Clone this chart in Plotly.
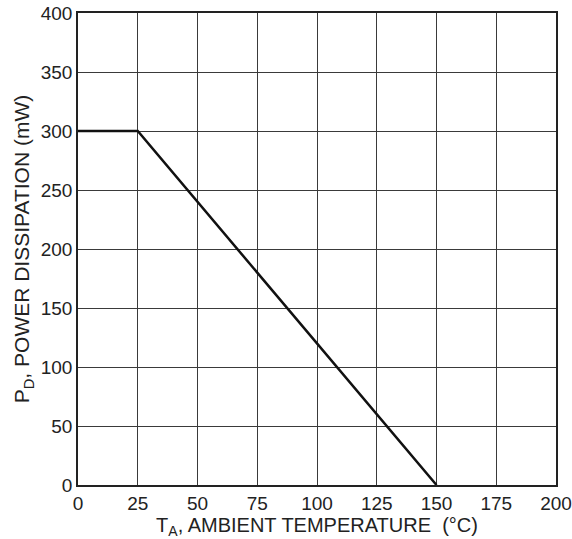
import plotly.graph_objects as go

temp_c = [0, 25, 150]
power_mw = [300, 300, 0]

x_ticks = [0, 25, 50, 75, 100, 125, 150, 175, 200]
y_ticks = [0, 50, 100, 150, 200, 250, 300, 350, 400]

font = "Liberation Sans, Arial, sans-serif"

fig = go.Figure()
fig.add_trace(go.Scatter(x=temp_c, y=power_mw, mode="lines",
                         line=dict(color="#111111", width=2.5), showlegend=False))

fig.update_layout(
    width=572, height=539,
    margin=dict(l=78, r=16, t=13, b=54, autoexpand=False),
    paper_bgcolor="white", plot_bgcolor="white",
    font=dict(family=font, size=19, color="#222222"),
)
fig.update_xaxes(
    range=[0, 200], tickvals=x_ticks, ticktext=[str(v) for v in x_ticks],
    showgrid=True, gridcolor="#3a3a3a", gridwidth=1,
    showline=True, linecolor="#222222", linewidth=1.5, mirror=True,
    zeroline=False, ticks="", tickfont=dict(size=19), automargin=False,
    title=dict(text="T<sub>A</sub>, AMBIENT TEMPERATURE  (°C)", font=dict(size=20), standoff=4),
)
fig.update_yaxes(
    range=[0, 400], tickvals=y_ticks, ticktext=[str(v) for v in y_ticks],
    showgrid=True, gridcolor="#3a3a3a", gridwidth=1,
    showline=True, linecolor="#222222", linewidth=1.5, mirror=True,
    zeroline=False, ticks="", tickfont=dict(size=19), automargin=False,
    title=dict(text="P<sub>D</sub>, POWER DISSIPATION (mW)", font=dict(size=21), standoff=5),
)

fig.write_html("out.html")
